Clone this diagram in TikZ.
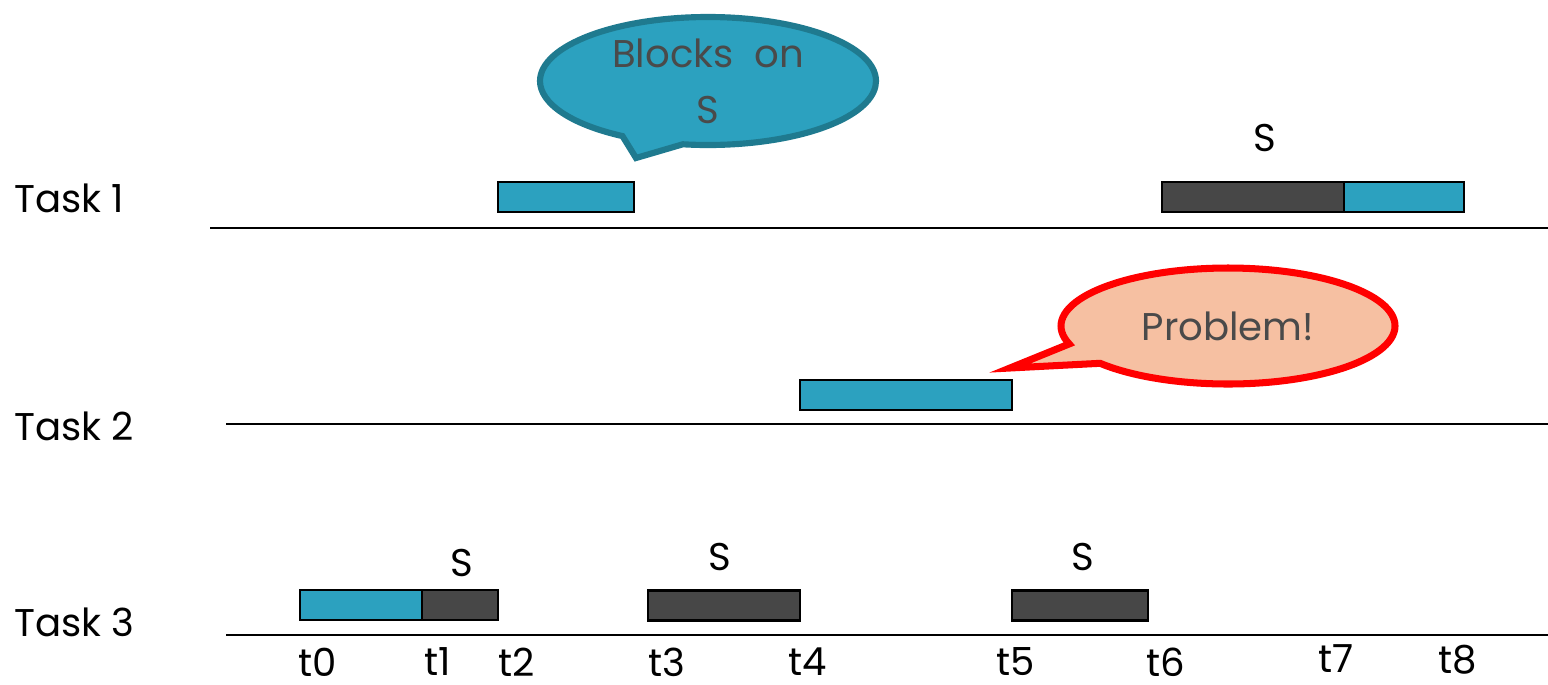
\documentclass[tikz,border=0pt]{standalone}
\usepackage{fontspec}
\setmainfont{Poppins}
\usetikzlibrary{shapes.callouts}
\definecolor{tblue}{HTML}{2CA1BF}
\definecolor{tdark}{HTML}{474747}
\definecolor{cblue}{HTML}{1F7A8F}
\definecolor{cpeach}{HTML}{F6C0A2}
\definecolor{ctext}{HTML}{4A4A4A}
\tikzset{
  lbl/.style={font=\fontsize{22}{26}\selectfont, inner sep=0pt},
  bar/.style={draw=black, line width=1.2pt, inner sep=0pt, minimum height=0.6cm},
  bluebar/.style={bar, fill=tblue},
  darkbar/.style={bar, fill=tdark},
  axis/.style={line width=1.2pt},
}
\begin{document}
\begin{tikzpicture}[x=0.02cm, y=-0.02cm]
\useasboundingbox (0,0) rectangle (1548,684);
% task labels
\node[lbl, anchor=west] (task1) at (14,198) {Task 1};
\node[lbl, anchor=west] (task2) at (14,426) {Task 2};
\node[lbl, anchor=west] (task3) at (14,622) {Task 3};
% axes
\coordinate (l1a) at (210,228); \coordinate (l1b) at (1548,228);
\coordinate (l2a) at (226,424); \coordinate (l2b) at (1548,424);
\coordinate (l3a) at (226,635); \coordinate (l3b) at (1548,635);
\draw[axis] (l1a) -- (l1b);
\draw[axis] (l2a) -- (l2b);
\draw[axis] (l3a) -- (l3b);
% task 1 bars
\node[bluebar, minimum width=136*0.02cm] (b1) at (566,197) {};
\node[darkbar, minimum width=182*0.02cm] (d1) at (1253,197) {};
\node[bluebar, minimum width=120*0.02cm] (b1b) at (1404,197) {};
\node[lbl] (s1) at (1265,138) {S};
% task 2 bars
\node[bluebar, minimum width=212*0.02cm] (b2) at (906,395) {};
% task 3 bars
\node[bluebar, minimum width=122*0.02cm] (b3) at (361,605) {};
\node[darkbar, minimum width=76*0.02cm] (d3a) at (460,605) {};
\node[darkbar, minimum width=152*0.02cm] (d3b) at (724,605.5) {};
\node[darkbar, minimum width=136*0.02cm] (d3c) at (1080,605.5) {};
\node[lbl] (s3a) at (462,563) {S};
\node[lbl] (s3b) at (720,557) {S};
\node[lbl] (s3c) at (1083,557) {S};
% time labels
\node[lbl] (t0) at (318,662) {t0};
\node[lbl] (t1) at (438,662) {t1};
\node[lbl] (t2) at (517,662) {t2};
\node[lbl] (t3) at (667,662) {t3};
\node[lbl] (t4) at (808,662) {t4};
\node[lbl] (t5) at (1016,662) {t5};
\node[lbl] (t6) at (1166,662) {t6};
\node[lbl] (t7) at (1336,659) {t7};
\node[lbl] (t8) at (1458,660) {t8};
% callouts
\node[ellipse callout, draw=cblue, fill=tblue, line width=3.5pt,
      minimum width=336*0.02cm, minimum height=128*0.02cm,
      callout absolute pointer={(636,158)}, callout pointer arc=22,
      text=ctext, font=\fontsize{22}{32}\selectfont, align=center, inner sep=0pt]
      (c1) at (708,81) {Blocks\ \ on\\S};
\node[ellipse callout, draw=red, fill=cpeach, line width=4pt,
      minimum width=334*0.02cm, minimum height=116*0.02cm,
      callout absolute pointer={(1010,368)}, callout pointer arc=22,
      text=ctext, font=\fontsize{22}{26}\selectfont, inner sep=0pt]
      (c2) at (1228,326) {Problem!};
\end{tikzpicture}
\end{document}
